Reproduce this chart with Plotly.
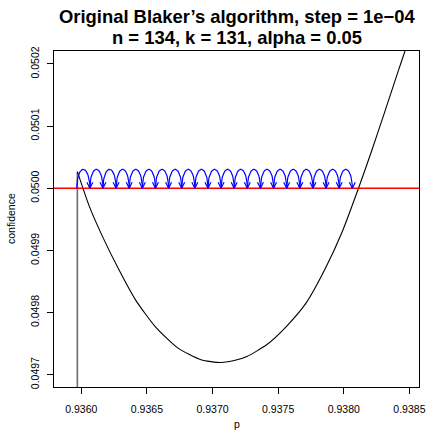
import numpy as np
import plotly.graph_objects as go

# ---- data ----
curve_p = [0.93597, 0.936062, 0.936162, 0.936287, 0.936413, 0.936563, 0.936737,
           0.936912, 0.937062, 0.937187, 0.937262, 0.937412, 0.937562, 0.937712,
           0.937862, 0.937988, 0.938112, 0.938212, 0.938312, 0.938412, 0.938468,
           0.938522]
curve_conf = [0.0500267, 0.0499704, 0.0499222, 0.0498687, 0.0498204, 0.0497775,
              0.0497428, 0.049724, 0.0497196, 0.049724, 0.0497293, 0.0497481,
              0.0497775, 0.0498151, 0.0498720, 0.0499300, 0.0500000, 0.0500600,
              0.0501230, 0.0501870, 0.0502220, 0.0502570]
jump_p = 0.93597
jump_low = 0.04960
jump_high = 0.0500267
alpha = 0.05
step_starts = [0.935965, 0.936065, 0.936165, 0.936265, 0.936365, 0.936465, 0.936565,
               0.936665, 0.936765, 0.936865, 0.936965, 0.937065, 0.937165, 0.937265,
               0.937365, 0.937465, 0.937565, 0.937665, 0.937765, 0.937865, 0.937965]
step = 1e-4
arc_height = 0.0000305
x_ticks = [0.9360, 0.9365, 0.9370, 0.9375, 0.9380, 0.9385]
x_ticklabels = ["0.9360", "0.9365", "0.9370", "0.9375", "0.9380", "0.9385"]
y_ticks = [0.0497, 0.0498, 0.0499, 0.0500, 0.0501, 0.0502]
y_ticklabels = ["0.0497", "0.0498", "0.0499", "0.0500", "0.0501", "0.0502"]
title_line1 = "Original Blaker’s algorithm, step = 1e−04"
title_line2 = "n = 134, k = 131, alpha = 0.05"

# ---- layout geometry ----
W, H = 433, 438
ml, mr, mt, mb = 54, 8, 51, 51
x_range = [0.935792, 0.938573]
y_range = [0.0496802, 0.0502209]
px_x = (x_range[1] - x_range[0]) / (W - ml - mr)
px_y = (y_range[1] - y_range[0]) / (H - mt - mb)

fig = go.Figure()

# vertical jump line
fig.add_trace(go.Scatter(x=[jump_p, jump_p], y=[jump_low, jump_high], mode="lines",
                         line=dict(color="#6e6e6e", width=1.6), hoverinfo="skip",
                         showlegend=False))
# acceptability curve
fig.add_trace(go.Scatter(x=curve_p, y=curve_conf, mode="lines",
                         line=dict(color="black", width=1.1, shape="spline", smoothing=0.6),
                         showlegend=False))
# alpha line
fig.add_trace(go.Scatter(x=[x_range[0] - 1, x_range[1] + 1], y=[alpha, alpha], mode="lines",
                         line=dict(color="#ff0000", width=1.3), showlegend=False))

# arcs
t = np.linspace(np.pi, 0, 30)
ax_, ay_ = [], []
hx, hy = [], []
for s in step_starts:
    c = s + step / 2
    ax_ += list(c + (step / 2) * np.cos(t)) + [None]
    ay_ += list(alpha + arc_height * np.sin(t)) + [None]
    tip = s + step
    hx += [tip - 3 * px_x, tip, tip + 3 * px_x, None]
    hy += [alpha + 6 * px_y, alpha, alpha + 6 * px_y, None]
fig.add_trace(go.Scatter(x=ax_, y=ay_, mode="lines", line=dict(color="#0000ff", width=1.2),
                         showlegend=False))
fig.add_trace(go.Scatter(x=hx, y=hy, mode="lines", line=dict(color="#0000ff", width=1.2),
                         showlegend=False))

font_tick = dict(family="Liberation Sans, Arial, sans-serif", size=10.5, color="black")
title_font = dict(family="Liberation Sans, Arial, sans-serif", size=18.4, color="black")
fig.update_layout(
    width=W, height=H,
    margin=dict(l=ml, r=mr, t=mt, b=mb),
    paper_bgcolor="white", plot_bgcolor="white",
    showlegend=False,
    xaxis=dict(range=x_range, tickvals=x_ticks, ticktext=x_ticklabels,
               showgrid=False, zeroline=False, showline=True, linecolor="black",
               linewidth=1, mirror=True, ticks="outside", ticklen=6, tickcolor="black",
               tickfont=font_tick, ticklabelstandoff=6),
    yaxis=dict(range=y_range, tickvals=y_ticks, ticktext=y_ticklabels,
               showgrid=False, zeroline=False, showline=True, linecolor="black",
               linewidth=1, mirror=True, ticks="outside", ticklen=6, tickcolor="black",
               tickfont=font_tick, tickangle=-90, ticklabelstandoff=4),
    annotations=[
        dict(text=f"<b>{title_line1}</b>", x=0.5, y=1, xref="paper", yref="paper",
             xanchor="center", yanchor="middle", yshift=51 - 16, showarrow=False,
             font=title_font),
        dict(text=f"<b>{title_line2}</b>", x=0.5, y=1, xref="paper", yref="paper",
             xanchor="center", yanchor="middle", yshift=51 - 37, showarrow=False,
             font=title_font),
        dict(text="p", x=0.5, y=0, xref="paper", yref="paper", xanchor="center",
             yanchor="middle", yshift=-37, showarrow=False,
             font=dict(family="Liberation Sans, Arial, sans-serif", size=10.5, color="black")),
        dict(text="confidence", x=0, y=0.5, xref="paper", yref="paper", xanchor="center",
             yanchor="middle", xshift=-43, textangle=-90, showarrow=False,
             font=dict(family="Liberation Sans, Arial, sans-serif", size=10.5, color="black")),
    ],
)

fig.write_html("out.html")
